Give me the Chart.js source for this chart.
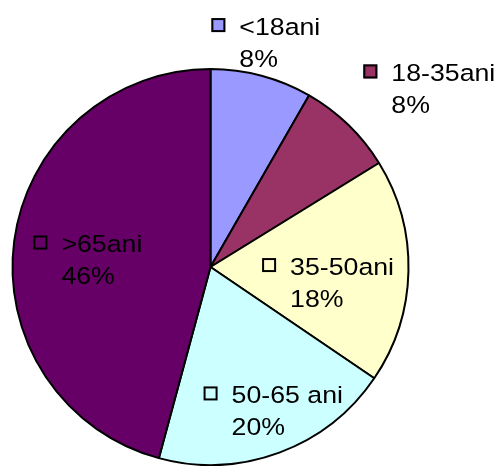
<!DOCTYPE html>
<html>
<head>
<meta charset="utf-8">
<script src="https://cdn.jsdelivr.net/npm/chart.js@4.4.0/dist/chart.umd.min.js"></script>
<style>
  html, body { margin: 0; padding: 0; background: #fff; }
  canvas { display: block; }
</style>
</head>
<body>
<canvas id="chartCanvas" width="499" height="466"></canvas>
<script>
// date
const categories = ["<18ani", "18-35ani", "35-50ani", "50-65 ani", ">65ani"];
const shares = [8.3, 7.9, 18.3, 19.7, 45.8];
const sliceColors = ["#9999FF", "#993366", "#FFFFCC", "#CCFFFF", "#660066"];

// unde stau etichetele (fata de felie)
const labelRadius = [1.16, 1.42, 0.6, 0.8, 0.62];
const labelShift = [-1, 7, 7, -3, -5]; // grade

const FONT = "24.5px 'Liberation Sans', Arial, sans-serif";
const STRETCH = 1.09; // textul din original e putin latit

function wideText(ctx, txt, x, y) {
    ctx.save();
    ctx.translate(x, y);
    ctx.scale(STRETCH, 1);
    ctx.fillText(txt, 0, 0);
    ctx.restore();
}

const pieLabels = {
    id: "pieLabels",
    afterDatasetsDraw(chart) {
        const ctx = chart.ctx;
        const arcs = chart.getDatasetMeta(0).data;
        const data = chart.data.datasets[0].data;
        const total = data.reduce((a, b) => a + b, 0);

        ctx.save();
        ctx.font = FONT;
        ctx.textBaseline = "middle";
        ctx.textAlign = "left";

        arcs.forEach((arc, i) => {
            const { x, y, startAngle, endAngle, outerRadius } =
                arc.getProps(["x", "y", "startAngle", "endAngle", "outerRadius"], true);
            const mid = (startAngle + endAngle) / 2 + labelShift[i] * Math.PI / 180;
            const r = outerRadius * labelRadius[i];
            const cx = x + r * Math.cos(mid);
            const cy = y + r * Math.sin(mid);

            const name = chart.data.labels[i];
            const pct = Math.round(data[i] / total * 100) + "%";
            const box = 14, gap = 14;
            const tw = STRETCH * Math.max(ctx.measureText(name).width, ctx.measureText(pct).width);
            const left = cx - (box + gap + tw) / 2;
            const y1 = cy - 16, y2 = cy + 16;

            // cheia legendei
            ctx.fillStyle = sliceColors[i];
            ctx.fillRect(left, y1 - 3 - box / 2, box, box);
            ctx.lineWidth = 2;
            ctx.strokeStyle = "#000";
            ctx.strokeRect(left + 1, y1 - 3 - box / 2 + 1, box - 2, box - 2);

            ctx.fillStyle = "#000";
            wideText(ctx, name, left + box + gap, y1);
            wideText(ctx, pct, left + box + gap, y2);
        });
        ctx.restore();
    }
};

const ctx = document.getElementById("chartCanvas").getContext("2d");
new Chart(ctx, {
    type: "pie",
    data: {
        labels: categories,
        datasets: [{
            data: shares,
            backgroundColor: sliceColors,
            borderColor: "#000",
            borderWidth: 2,
        }],
    },
    options: {
        responsive: false,
        animation: false,
        radius: 198,
        layout: { padding: { top: 69, bottom: 1, left: 10, right: 88 } },
        plugins: {
            legend: { display: false },
            tooltip: { enabled: false },
        },
    },
    plugins: [pieLabels],
});
</script>
</body>
</html>
